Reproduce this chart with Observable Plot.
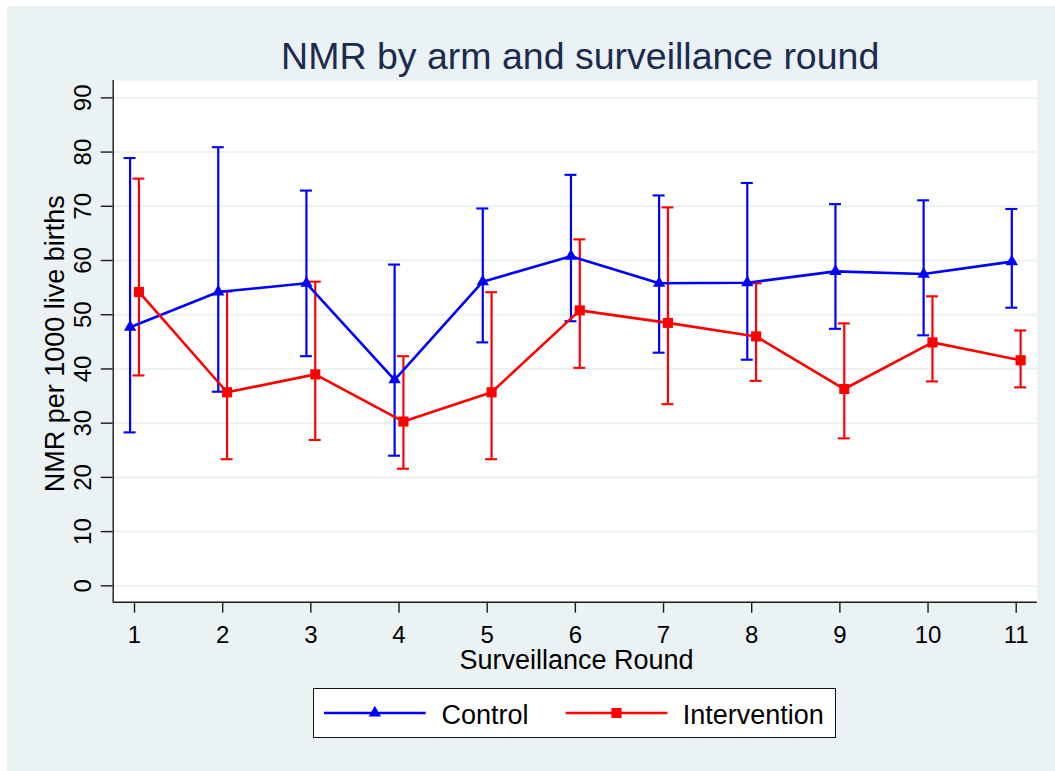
<!DOCTYPE html>
<html>
<head>
<meta charset="utf-8">
<script src="https://cdn.jsdelivr.net/npm/d3@7"></script>
<script src="https://cdn.jsdelivr.net/npm/@observablehq/plot@0.6"></script>
<style>
  html, body { margin: 0; padding: 0; background: #ffffff; }
  #wrap { position: relative; width: 1055px; height: 771px; overflow: hidden;
          font-family: "Liberation Sans", Arial, sans-serif; }
  #chart { position: absolute; left: 7px; top: 6px; }
  #legend { position: absolute; left: 313px; top: 688px; width: 523px; height: 50px;
            box-sizing: border-box; border: 1.3px solid #111; background: #ffffff; }
  #legend svg { position: absolute; left: 0; top: 0; overflow: visible; }
</style>
</head>
<body>
<div id="wrap"><div id="chart"></div><div id="legend"></div></div>
<script>
// ---- data ----
const rounds = [1, 2, 3, 4, 5, 6, 7, 8, 9, 10, 11];
const seriesNames = ["Control", "Intervention"];
const controlMean = [47.7, 54.2, 55.8, 38.0, 56.1, 60.8, 55.8, 55.9, 58.0, 57.5, 59.8];
const controlLow  = [28.3, 35.8, 42.35, 24.0, 44.9, 48.8, 43.0, 41.7, 47.4, 46.2, 51.3];
const controlHigh = [78.9, 80.9, 72.9, 59.25, 69.6, 75.8, 72.0, 74.3, 70.4, 71.1, 69.5];
const interventionMean = [54.2, 35.7, 39.0, 30.3, 35.7, 50.8, 48.5, 46.0, 36.3, 44.9, 41.6];
const interventionLow  = [38.8, 23.35, 26.9, 21.6, 23.35, 40.2, 33.5, 37.8, 27.2, 37.7, 36.6];
const interventionHigh = [75.1, 54.3, 56.1, 42.35, 54.15, 63.9, 69.8, 55.8, 48.4, 53.4, 47.1];
const yTicks = [0, 10, 20, 30, 40, 50, 60, 70, 80, 90];
const titleText = "NMR by arm and surveillance round";
const xLabel = "Surveillance Round";
const yLabel = "NMR per 1000 live births";

// ---- styling / layout ----
const colors = ["#0000ff", "#ff0000"];
const offsets = {Control: -0.05, Intervention: 0.05};
const capHalf = 0.068;
const xDomain = [0.7584, 11.238];
const yDomain = [-3.02, 93.2];
const axisColor = "#1a1a1a";

const rows = [];
rounds.forEach((r, i) => {
  rows.push({series: "Control", round: r, mean: controlMean[i], lo: controlLow[i], hi: controlHigh[i]});
});
rounds.forEach((r, i) => {
  rows.push({series: "Intervention", round: r, mean: interventionMean[i], lo: interventionLow[i], hi: interventionHigh[i]});
});
const xpos = d => d.round + offsets[d.series];
const ctrl = rows.filter(d => d.series === "Control");
const intv = rows.filter(d => d.series === "Intervention");

const barMarks = data => [
  Plot.ruleX(data, {x: xpos, y1: "lo", y2: "hi", stroke: "series", strokeWidth: 2.2}),
  Plot.ruleY(data, {y: "hi", x1: d => xpos(d) - capHalf, x2: d => xpos(d) + capHalf, stroke: "series", strokeWidth: 2.1}),
  Plot.ruleY(data, {y: "lo", x1: d => xpos(d) - capHalf, x2: d => xpos(d) + capHalf, stroke: "series", strokeWidth: 2.1})
];

const chart = Plot.plot({
  width: 1048,
  height: 765,
  marginLeft: 105.7,
  marginTop: 74,
  marginRight: 18.3,
  marginBottom: 169.3,
  style: {background: "#EAF2F3", fontFamily: "'Liberation Sans', Arial, sans-serif", color: "#000", overflow: "visible"},
  x: {domain: xDomain},
  y: {domain: yDomain},
  color: {domain: seriesNames, range: colors},
  marks: [
    Plot.frame({fill: "#ffffff", stroke: "none"}),
    Plot.ruleY(yTicks, {stroke: "#EAF2F3", strokeWidth: 2}),
    ...barMarks(ctrl),
    ...barMarks(intv),
    Plot.line(ctrl, {x: xpos, y: "mean", stroke: "series", strokeWidth: 2.6}),
    Plot.line(intv, {x: xpos, y: "mean", stroke: "series", strokeWidth: 2.6}),
    Plot.dot(ctrl, {x: xpos, y: "mean", symbol: "triangle", fill: "series", r: 4.6}),
    Plot.dot(intv, {x: xpos, y: "mean", symbol: "square", fill: "series", r: 5.7}),
    Plot.ruleX([xDomain[0]], {stroke: axisColor, strokeWidth: 1.4}),
    Plot.ruleY([yDomain[0]], {stroke: axisColor, strokeWidth: 1.4}),
    Plot.axisX({ticks: rounds, tickSize: 11, tickPadding: 12.6, fontSize: 24, label: null,
                tickFormat: d => String(d), stroke: axisColor, fill: "#000", strokeWidth: 1.4}),
    Plot.axisY({ticks: yTicks, tickSize: 12, tickPadding: 10.7, tickRotate: -90, fontSize: 24, label: null,
                tickFormat: d => String(d), stroke: axisColor, fill: "#000", strokeWidth: 1.4}),
    Plot.text([titleText], {text: d => d, frameAnchor: "top", dx: 5, dy: -11.7, lineAnchor: "bottom",
                            fontSize: 37.5, fill: "#1c2b50"}),
    Plot.text([xLabel], {text: d => d, frameAnchor: "bottom", dx: 1.3, dy: 66.6, lineAnchor: "bottom",
                         fontSize: 27, fill: "#000"}),
    Plot.text([yLabel], {text: d => d, frameAnchor: "left", dx: -49.4, dy: 2.4, rotate: -90,
                         lineAnchor: "bottom", textAnchor: "middle", fontSize: 27, fill: "#000"})
  ]
});
document.getElementById("chart").appendChild(chart);

// ---- legend ----
const legendItems = [
  {name: seriesNames[0], color: colors[0], symbol: d3.symbolTriangle, size: Math.PI * 4.6 * 4.6, x0: 10, text: 127.4},
  {name: seriesNames[1], color: colors[1], symbol: d3.symbolSquare, size: Math.PI * 5.7 * 5.7, x0: 251.7, text: 368.7}
];
const lsvg = d3.select("#legend").append("svg").attr("width", 520).attr("height", 47);
const lineY = 24;
legendItems.forEach(it => {
  lsvg.append("line").attr("x1", it.x0).attr("x2", it.x0 + 101.7).attr("y1", lineY).attr("y2", lineY)
    .attr("stroke", it.color).attr("stroke-width", 2.6);
  lsvg.append("path").attr("d", d3.symbol(it.symbol, it.size)())
    .attr("transform", `translate(${it.x0 + 50.8},${lineY})`).attr("fill", it.color);
  lsvg.append("text").attr("x", it.text).attr("y", 35).attr("font-size", 27)
    .attr("font-family", "'Liberation Sans', Arial, sans-serif").attr("fill", "#000").text(it.name);
});
</script>
</body>
</html>
